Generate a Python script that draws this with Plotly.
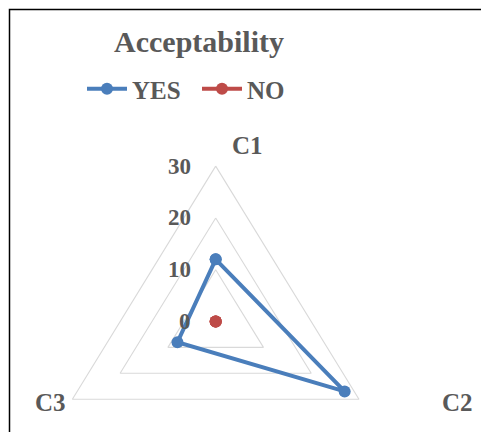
import numpy as np
import plotly.graph_objects as go

# ---- data ----
categories = ["C1", "C2", "C3"]
yes_values = [12, 27, 8]
no_values = [0, 0, 0]
grid_levels = [10, 20, 30]
tick_values = [0, 10, 20, 30]
tick_labels = ["0", "10", "20", "30"]

# spoke directions (degrees counter-clockwise from +x): C1 up, C2 lower right, C3 lower left
spoke_deg = [90, -30, 210]
spoke_rad = np.deg2rad(spoke_deg)

TEXT = "#595959"
FONT = "Liberation Serif"
BLUE = "#4A7EBB"
RED = "#BE4B48"
GRID = "#D9D9D9"


def closed_xy(values):
    """Project radar values onto the three spokes and close the loop."""
    r = np.append(np.asarray(values, dtype=float), values[0])
    a = np.append(spoke_rad, spoke_rad[0])
    return r * np.cos(a), r * np.sin(a)


fig = go.Figure()

# triangular grid rings
for level in grid_levels:
    gx, gy = closed_xy([level] * len(categories))
    fig.add_trace(go.Scatter(
        x=gx, y=gy, mode="lines", line=dict(color=GRID, width=1.1),
        hoverinfo="skip", showlegend=False,
    ))

# series
for name, vals, color in [("YES", yes_values, BLUE), ("NO", no_values, RED)]:
    sx, sy = closed_xy(vals)
    fig.add_trace(go.Scatter(
        x=sx, y=sy, mode="lines+markers", name=name,
        line=dict(color=color, width=4),
        marker=dict(color=color, size=12),
        customdata=list(categories) + [categories[0]],
        hovertemplate="%{customdata}: %{text}<extra>" + name + "</extra>",
        text=list(vals) + [vals[0]],
    ))

annotations = []
# radial tick labels along the C1 spoke
for v, t in zip(tick_values, tick_labels):
    annotations.append(dict(
        x=v * np.cos(spoke_rad[0]), y=v * np.sin(spoke_rad[0]),
        xref="x", yref="y", text=t, showarrow=False,
        xanchor="right", yanchor="middle", xshift=-23,
        font=dict(family=FONT, size=23, color=TEXT, weight="bold"),
    ))

# category labels, offset from the outer ring vertices
outer = max(grid_levels)
label_shift = {"C1": (32, 21), "C2": (99, -3), "C3": (-22, -3)}
for cat, ang in zip(categories, spoke_rad):
    dx, dy = label_shift[cat]
    annotations.append(dict(
        x=outer * np.cos(ang), y=outer * np.sin(ang),
        xref="x", yref="y", text=cat, showarrow=False,
        xanchor="center", yanchor="middle", xshift=dx, yshift=dy,
        font=dict(family=FONT, size=25, color=TEXT, weight="bold"),
    ))

W, H = 481, 432
fig.update_layout(
    width=W, height=H,
    margin=dict(l=0, r=0, t=0, b=0),
    paper_bgcolor="white", plot_bgcolor="white",
    title=dict(
        text="Acceptability", x=199 / W, y=1 - 41 / H,
        xanchor="center", yanchor="middle",
        font=dict(family=FONT, size=30, color=TEXT, weight="bold"),
    ),
    legend=dict(
        orientation="h", x=82 / W, y=1 - 89 / H,
        xanchor="left", yanchor="middle",
        itemwidth=40, entrywidth=60, entrywidthmode="pixels",
        font=dict(family=FONT, size=25, color=TEXT, weight="bold"),
        bgcolor="rgba(0,0,0,0)",
    ),
    xaxis=dict(range=[-39.1, 48.1], visible=False, fixedrange=True),
    yaxis=dict(range=[-21.33, 62.07], visible=False, fixedrange=True),
    annotations=annotations,
    shapes=[dict(
        type="rect", xref="paper", yref="paper",
        x0=9.5 / W, x1=1.2, y0=-0.2, y1=1 - 9.5 / H,
        line=dict(color="black", width=1.5), layer="above",
    )],
    showlegend=True,
)

fig.write_html("out.html")
